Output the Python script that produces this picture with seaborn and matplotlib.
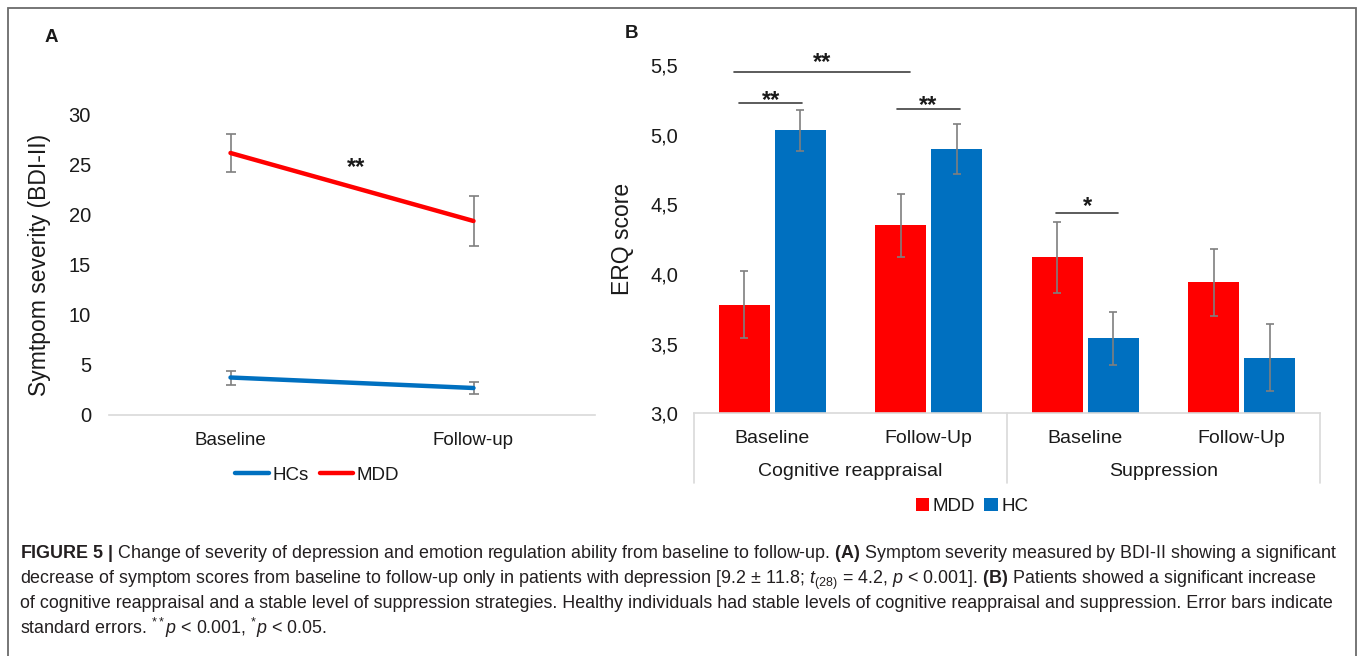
import numpy as np
import pandas as pd
import seaborn as sns
from matplotlib import pyplot as plt
from matplotlib.patches import Rectangle
from matplotlib.transforms import blended_transform_factory

# panel A: BDI-II symptom severity
timepoints = ["Baseline", "Follow-up"]
hc_bdi = [3.75, 2.7]
hc_bdi_se = [0.7, 0.6]
mdd_bdi = [26.2, 19.4]
mdd_bdi_se = [1.9, 2.5]
bdi_ticks = [0, 5, 10, 15, 20, 25, 30]

# panel B: ERQ scores
erq_strategies = ["Cognitive reappraisal", "Suppression"]
erq_sessions = ["Baseline", "Follow-Up", "Baseline", "Follow-Up"]
erq_conditions = ["CR Baseline", "CR Follow-Up", "SUP Baseline", "SUP Follow-Up"]
mdd_erq = [3.78, 4.35, 4.12, 3.94]
mdd_erq_se = [0.24, 0.225, 0.255, 0.24]
hc_erq = [5.03, 4.90, 3.54, 3.40]
hc_erq_se = [0.145, 0.18, 0.19, 0.24]
erq_ticks = [3.0, 3.5, 4.0, 4.5, 5.0, 5.5]

# significance markers: (x_start, x_end, line_y, star_y, label)
erq_sig = [
    (-0.246, 0.879, 5.448, 5.474, "**"),
    (-0.211, 0.191, 5.225, 5.199, "**"),
    (0.799, 1.198, 5.185, 5.163, "**"),
    (1.811, 2.212, 4.44, 4.438, "*"),
]
bdi_sig = (0.516, 24.1, "**")

caption_lines = [
    r"$\mathbf{FIGURE\ 5\ |}$ Change of severity of depression and emotion regulation ability from baseline to follow-up. "
    r"$\mathbf{(A)}$ Symptom severity measured by BDI-II showing a significant",
    r"decrease of symptom scores from baseline to follow-up only in patients with depression [9.2 ± 11.8; "
    r"$t_{(28)}$ = 4.2, $p$ < 0.001]. $\mathbf{(B)}$ Patients showed a significant increase",
    "of cognitive reappraisal and a stable level of suppression strategies. Healthy individuals had stable "
    "levels of cognitive reappraisal and suppression. Error bars indicate",
    r"standard errors. $^{**}p$ < 0.001, $^{*}p$ < 0.05.",
]

RED = "#ff0000"
BLUE = "#0070c0"
ERR = "#7f7f7f"
AXIS_GREY = "#d9d9d9"
TEXT = "#1a1a1a"

sns.set_style("white")
plt.rcParams["font.family"] = ["Liberation Sans", "DejaVu Sans"]
plt.rcParams["mathtext.fontset"] = "custom"
plt.rcParams["mathtext.rm"] = "Liberation Sans"
plt.rcParams["mathtext.it"] = "Liberation Sans:italic"
plt.rcParams["mathtext.bf"] = "Liberation Sans:bold"
plt.rcParams["text.color"] = TEXT

W, H = 1357, 656
fig = plt.figure(figsize=(W / 100, H / 100), dpi=100)


def px_axes(left, top, right, bottom):
    return fig.add_axes([left / W, 1 - bottom / H, (right - left) / W, (bottom - top) / H])


# ---------------- panel A ----------------
ax_a = px_axes(109, 115, 595, 415)
bdi_df = pd.DataFrame(
    {
        "time": timepoints * 2,
        "score": hc_bdi + mdd_bdi,
        "group": ["HCs"] * 2 + ["MDD"] * 2,
    }
)
sns.lineplot(
    data=bdi_df,
    x="time",
    y="score",
    hue="group",
    hue_order=["HCs", "MDD"],
    palette={"HCs": BLUE, "MDD": RED},
    linewidth=3.2,
    ax=ax_a,
    zorder=3,
)
for vals, se in [(hc_bdi, hc_bdi_se), (mdd_bdi, mdd_bdi_se)]:
    ax_a.errorbar(timepoints, vals, yerr=se, fmt="none", ecolor=ERR, elinewidth=1.2, capsize=3.5, capthick=1.2, zorder=2)

ax_a.set_xlim(-0.5, 1.5)
ax_a.set_ylim(bdi_ticks[0], bdi_ticks[-1])
ax_a.set_yticks(bdi_ticks)
ax_a.tick_params(axis="y", length=0, pad=13, labelsize=14.5, labelcolor=TEXT)
ax_a.tick_params(axis="x", length=0, pad=12, labelsize=13.5, labelcolor=TEXT)
ax_a.set_xlabel("")
ax_a.set_ylabel("Symtpom severity (BDI-II)", fontsize=16.5, color=TEXT)
ax_a.yaxis.set_label_coords(-0.119, 0.5)
for side in ["top", "right", "left"]:
    ax_a.spines[side].set_visible(False)
ax_a.spines["bottom"].set_color(AXIS_GREY)
ax_a.spines["bottom"].set_linewidth(1.2)
ax_a.text(bdi_sig[0], bdi_sig[1], bdi_sig[2], ha="center", va="baseline", fontsize=17, fontweight="bold")
sns.move_legend(
    ax_a,
    "center",
    bbox_to_anchor=(0.428, -0.2),
    ncol=2,
    frameon=False,
    title=None,
    fontsize=13.5,
    handlelength=1.8,
    handletextpad=0.15,
    columnspacing=0.6,
)
for line in ax_a.get_legend().get_lines():
    line.set_linewidth(3.2)

# ---------------- panel B ----------------
ax_b = px_axes(694, 65, 1320, 413.3)
erq_df = pd.DataFrame(
    {
        "condition": erq_conditions * 2,
        "score": mdd_erq + hc_erq,
        "group": ["MDD"] * 4 + ["HC"] * 4,
    }
)
sns.barplot(
    data=erq_df,
    x="condition",
    y="score",
    hue="group",
    order=erq_conditions,
    hue_order=["MDD", "HC"],
    palette={"MDD": RED, "HC": BLUE},
    width=0.716,
    gap=0.09,
    errorbar=None,
    linewidth=0,
    saturation=1,
    ax=ax_b,
)
for container, se in zip(ax_b.containers, [mdd_erq_se, hc_erq_se]):
    xs = [bar.get_x() + bar.get_width() / 2 for bar in container]
    ys = [bar.get_y() + bar.get_height() for bar in container]
    ax_b.errorbar(xs, ys, yerr=se, fmt="none", ecolor=ERR, elinewidth=1.2, capsize=3, capthick=1.2, zorder=4)

ax_b.set_xlim(-0.5, 3.5)
ax_b.set_ylim(erq_ticks[0], erq_ticks[-1])
ax_b.set_yticks(erq_ticks)
ax_b.set_yticklabels([f"{v:.1f}".replace(".", ",") for v in erq_ticks])
ax_b.set_xticks(range(len(erq_sessions)))
ax_b.set_xticklabels(erq_sessions)
ax_b.tick_params(axis="y", length=0, pad=11.5, labelsize=14.5, labelcolor=TEXT)
ax_b.tick_params(axis="x", length=0, pad=12, labelsize=14, labelcolor=TEXT)
ax_b.set_xlabel("")
ax_b.set_ylabel("ERQ score", fontsize=16.5, color=TEXT)
ax_b.yaxis.set_label_coords(-0.096, 0.5)
for side in ["top", "right", "left"]:
    ax_b.spines[side].set_visible(False)
ax_b.spines["bottom"].set_color(AXIS_GREY)
ax_b.spines["bottom"].set_linewidth(1.2)

# two-level category axis
trans = blended_transform_factory(ax_b.transData, ax_b.transAxes)
for xsep in [-0.5, 1.5, 3.5]:
    ax_b.plot([xsep, xsep], [0, -0.2], transform=trans, color=AXIS_GREY, lw=1.2, clip_on=False)
for i, strategy in enumerate(erq_strategies):
    ax_b.text(2 * i + 0.5, -0.168, strategy, transform=trans, ha="center", va="center", fontsize=14)

for x0, x1, ly, sy, lab in erq_sig:
    ax_b.plot([x0, x1], [ly, ly], color="#404040", lw=1.2, clip_on=False)
    ax_b.text((x0 + x1) / 2, sy, lab, ha="center", va="baseline", fontsize=17, fontweight="bold", clip_on=False)

sns.move_legend(
    ax_b,
    "center",
    bbox_to_anchor=(0.444, -0.268),
    ncol=2,
    frameon=False,
    title=None,
    fontsize=13.5,
    handlelength=0.7,
    handleheight=0.7,
    handletextpad=0.2,
    columnspacing=0.5,
)

# panel letters
fig.text(45 / W, 1 - 37 / H, "A", fontsize=13.5, fontweight="bold", va="center", ha="left")
fig.text(625 / W, 1 - 34 / H, "B", fontsize=13.5, fontweight="bold", va="center", ha="left")

# caption (lines with sub/superscripts sit a touch high, nudge them down)
caption_nudge = [0, 2, 0, 2]
for i, line in enumerate(caption_lines):
    y_px = 557.5 + 25 * i + caption_nudge[i]
    fig.text(20 / W, 1 - y_px / H, line, fontsize=12.85, va="baseline", ha="left", color="#231f20")

# frame around the figure
fig.add_artist(
    Rectangle(
        (7.5 / W, -0.05),
        (1355.5 - 7.5) / W,
        1 - 8.5 / H + 0.05,
        transform=fig.transFigure,
        fill=False,
        edgecolor="#6b6b6b",
        linewidth=1.3,
    )
)

plt.savefig("out.png", dpi=100)
plt.close()
